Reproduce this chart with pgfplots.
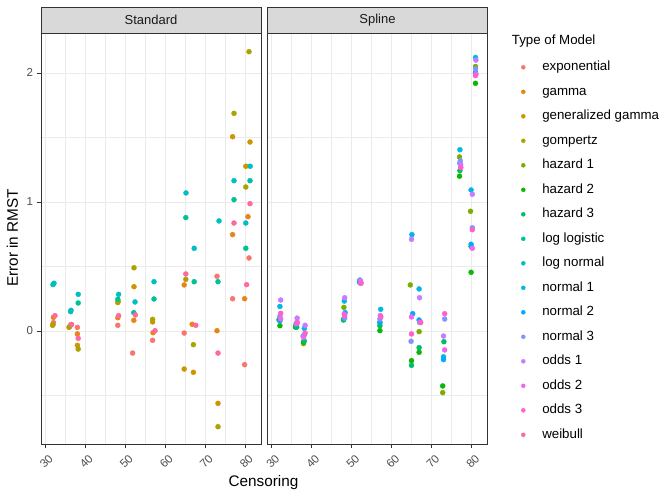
\documentclass[border=0pt]{standalone}
\usepackage{pgfplots}
\pgfplotsset{compat=1.18}
\usepackage{fontspec}
\setmainfont{Liberation Sans}
\definecolor{c1}{HTML}{F8766D}
\definecolor{c2}{HTML}{E68613}
\definecolor{c3}{HTML}{CD9600}
\definecolor{c4}{HTML}{ABA300}
\definecolor{c5}{HTML}{7CAE00}
\definecolor{c6}{HTML}{0CB702}
\definecolor{c7}{HTML}{00BE67}
\definecolor{c8}{HTML}{00C19A}
\definecolor{c9}{HTML}{00BFC4}
\definecolor{c10}{HTML}{00B8E7}
\definecolor{c11}{HTML}{00A9FF}
\definecolor{c12}{HTML}{8494FF}
\definecolor{c13}{HTML}{C77CFF}
\definecolor{c14}{HTML}{ED68ED}
\definecolor{c15}{HTML}{FF61CC}
\definecolor{c16}{HTML}{FF68A1}
\definecolor{gridc}{HTML}{EBEBEB}
\definecolor{stripc}{HTML}{D9D9D9}
\definecolor{framec}{HTML}{333333}
\definecolor{tickc}{HTML}{4D4D4D}
\pgfplotsset{
  pts/.style={only marks, mark=*, mark size=2.5bp, forget plot},
  panel/.style={
    scale only axis, width=220bp, height=411bp,
    anchor=south west,
    xmin=29, xmax=84, ymin=-0.876, ymax=2.31,
    xtick={30,40,...,80}, minor xtick={35,45,...,75},
    ytick={0,1,2}, minor ytick={-0.5,0.5,1.5},
    grid=both,
    major grid style={color=gridc, line width=0.9bp},
    minor grid style={color=gridc, line width=0.45bp},
    tick align=outside, tick pos=left,
    major tick length=4.5bp, minor tick length=0pt,
    tick style={color=framec, line width=0.7bp},
    axis line style={color=framec, line width=0.7bp},
    ticklabel style={font=\fontsize{11.5bp}{13bp}\selectfont, color=tickc},
    /pgf/number format/assume math mode=true,
    xticklabel style={rotate=45, anchor=center, xshift=-8bp, yshift=-10bp},
  },
}
\begin{document}
\begin{tikzpicture}[x=1bp,y=1bp]
\path[use as bounding box] (0,0) rectangle (669,500);
\begin{axis}[panel, name=std, at={(41bp,56bp)}]
\addplot[pts, c1] coordinates {(32.1,0.065) (36.6,0.05) (38.1,0.028) (48.2,0.044) (51.9,-0.171) (56.9,-0.072) (64.8,-0.016) (73.0,0.424) (76.9,0.25) (79.9,-0.261) (81.0,0.566)};
\addplot[pts, c2] coordinates {(32.1,0.106) (36.4,0.045) (38.1,-0.023) (48.2,0.103) (52.2,0.083) (57.0,-0.013) (64.8,0.357) (66.8,0.052) (73.0,0.002) (76.9,0.747) (79.9,0.25) (80.75,0.886)};
\addplot[pts, c3] coordinates {(31.9,0.044) (36.0,0.028) (38.1,-0.111) (48.2,0.22) (52.25,0.343) (56.9,0.07) (64.8,-0.295) (67.1,-0.32) (73.25,-0.561) (76.9,1.506) (81.25,1.465) (80.2,1.277)};
\addplot[pts, c4] coordinates {(32.0,0.05) (36.2,0.035) (38.3,-0.14) (48.3,0.23) (52.25,0.49) (56.9,0.09) (65.2,0.40) (67.1,-0.106) (73.25,-0.742) (77.25,1.687) (80.2,1.116) (81.0,2.165)};
\addplot[pts, c8] coordinates {(32.0,0.36) (36.4,0.15) (38.3,0.217) (48.2,0.246) (52.2,0.142) (57.25,0.248) (65.2,0.879) (67.3,0.382) (73.25,0.382) (77.25,1.018) (81.25,1.165) (80.2,0.641)};
\addplot[pts, c9] coordinates {(32.25,0.37) (36.5,0.16) (38.3,0.284) (48.4,0.284) (52.5,0.225) (57.25,0.382) (65.25,1.07) (67.3,0.641) (73.5,0.853) (77.25,1.165) (81.3,1.277) (80.2,0.837)};
\addplot[pts, c16] coordinates {(32.5,0.119) (36.6,0.05) (38.3,-0.057) (48.4,0.119) (52.6,0.124) (57.5,0.002) (65.2,0.442) (67.7,0.044) (73.25,-0.171) (77.25,0.837) (80.4,0.359) (81.25,0.987)};
\end{axis}
\begin{axis}[panel, name=spl, at={(267.5bp,56bp)}, yticklabels={}, ytick style={draw=none},
  legend style={at={(1.1536,0.9316)}, anchor=north west, draw=none, fill=none,
    inner sep=0pt, outer sep=0pt, font=\fontsize{13.3bp}{15bp}\selectfont,
    row sep=12.1bp, nodes={inner sep=0pt, text height=9.6bp, text depth=2.8bp},
    /tikz/every odd column/.append style={column sep=17bp}},
  legend cell align=left,
  legend image code/.code={\draw[#1] plot coordinates {(0bp,0bp)};},
]
\addplot[pts, c5] coordinates {(31.9,0.09) (36.0,0.035) (38.0,-0.098) (48.1,0.183) (52.0,0.385) (57.1,0.06) (64.7,0.357) (66.9,-0.005) (72.8,-0.478) (77.0,1.349) (79.75,0.928) (81.0,2.05)};
\addplot[pts, c6] coordinates {(32.1,0.041) (36.0,0.03) (38.0,-0.085) (48.0,0.09) (52.0,0.38) (57.1,0.003) (65.0,-0.23) (66.9,-0.165) (72.8,-0.426) (77.0,1.20) (79.9,0.455) (81.0,1.92)};
\addplot[pts, c7] coordinates {(31.9,0.085) (36.3,0.03) (38.2,-0.078) (48.0,0.085) (52.1,0.375) (57.1,0.04) (65.0,-0.266) (66.9,-0.129) (73.1,-0.083) (77.1,1.243) (79.9,0.655) (81.0,2.0)};
\addplot[pts, c10] coordinates {(32.1,0.19) (36.3,0.06) (38.2,0.02) (48.2,0.232) (52.1,0.395) (57.3,0.168) (65.1,0.747) (66.9,0.326) (73.0,-0.20) (77.1,1.405) (79.9,1.093) (81.0,2.12)};
\addplot[pts, c11] coordinates {(32.1,0.078) (36.2,0.05) (38.2,-0.03) (48.4,0.142) (52.2,0.38) (57.1,0.07) (65.3,0.134) (66.9,0.085) (73.0,-0.222) (77.1,1.30) (79.9,0.672) (81.0,2.0)};
\addplot[pts, c12] coordinates {(32.1,0.115) (36.1,0.055) (37.9,-0.039) (48.3,0.1) (52.2,0.37) (57.1,0.093) (64.9,-0.08) (67.0,0.066) (73.3,0.093) (77.2,1.318) (80.2,0.80) (81.0,2.03)};
\addplot[pts, c13] coordinates {(32.3,0.24) (36.4,0.1) (38.4,0.044) (48.3,0.258) (52.2,0.39) (57.2,0.12) (65.0,0.711) (67.0,0.258) (73.0,-0.039) (77.3,1.29) (80.2,1.06) (81.1,2.1)};
\addplot[pts, c14] coordinates {(32.3,0.093) (36.4,0.07) (38.0,-0.05) (48.2,0.13) (52.3,0.38) (57.3,0.11) (65.0,0.109) (67.2,0.066) (73.3,-0.147) (77.3,1.27) (80.2,0.641) (81.1,1.99)};
\addplot[pts, c15] coordinates {(32.3,0.137) (36.4,0.06) (38.4,-0.016) (48.3,0.12) (52.4,0.37) (57.3,0.111) (65.0,-0.023) (67.3,0.066) (73.3,0.134) (77.3,1.266) (80.2,0.785) (81.0,1.98)};
\addlegendimage{only marks, mark=*, mark size=2bp, c1}\addlegendentry{exponential}
\addlegendimage{only marks, mark=*, mark size=2bp, c2}\addlegendentry{gamma}
\addlegendimage{only marks, mark=*, mark size=2bp, c3}\addlegendentry{generalized gamma}
\addlegendimage{only marks, mark=*, mark size=2bp, c4}\addlegendentry{gompertz}
\addlegendimage{only marks, mark=*, mark size=2bp, c5}\addlegendentry{hazard 1}
\addlegendimage{only marks, mark=*, mark size=2bp, c6}\addlegendentry{hazard 2}
\addlegendimage{only marks, mark=*, mark size=2bp, c7}\addlegendentry{hazard 3}
\addlegendimage{only marks, mark=*, mark size=2bp, c8}\addlegendentry{log logistic}
\addlegendimage{only marks, mark=*, mark size=2bp, c9}\addlegendentry{log normal}
\addlegendimage{only marks, mark=*, mark size=2bp, c10}\addlegendentry{normal 1}
\addlegendimage{only marks, mark=*, mark size=2bp, c11}\addlegendentry{normal 2}
\addlegendimage{only marks, mark=*, mark size=2bp, c12}\addlegendentry{normal 3}
\addlegendimage{only marks, mark=*, mark size=2bp, c13}\addlegendentry{odds 1}
\addlegendimage{only marks, mark=*, mark size=2bp, c14}\addlegendentry{odds 2}
\addlegendimage{only marks, mark=*, mark size=2bp, c15}\addlegendentry{odds 3}
\addlegendimage{only marks, mark=*, mark size=2bp, c16}\addlegendentry{weibull}
\end{axis}
\foreach \n/\t in {std/Standard, spl/Spline}{
  \draw[fill=stripc, draw=framec, line width=0.7bp] (\n.north west) rectangle ([yshift=26bp]\n.north east);
  \node[font=\fontsize{13bp}{15bp}\selectfont, text=black!90] at ([yshift=13bp]\n.north) {\t};
}
\node[font=\fontsize{13.3bp}{15bp}\selectfont, anchor=west, inner sep=0pt] at (511.7,459) {Type of Model};
\node[font=\fontsize{15.3bp}{17bp}\selectfont, rotate=90] at (12.3,262) {Error in RMST};
\node[font=\fontsize{15.3bp}{17bp}\selectfont] at (263.5,17) {Censoring};
\end{tikzpicture}
\end{document}
